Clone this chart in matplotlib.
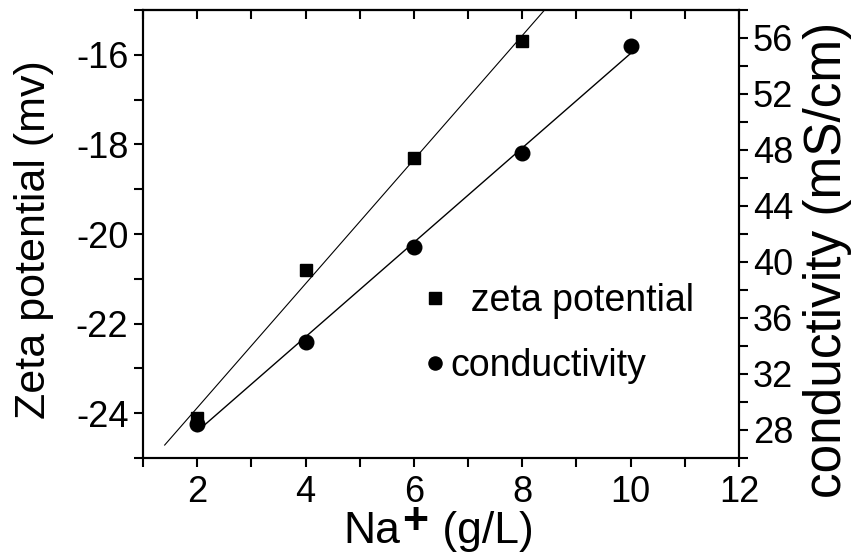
import numpy as np
import matplotlib
matplotlib.use("Agg")
import matplotlib.pyplot as plt
from matplotlib.ticker import MultipleLocator

plt.rcParams['font.family'] = ['Liberation Sans', 'DejaVu Sans']

# Na+ concentration (g/L)
na_zeta = [2, 4, 6, 8]
zeta_mv = [-24.1, -20.8, -18.3, -15.7]

na_cond = [2, 4, 6, 8, 10]
cond_mscm = [28.4, 34.3, 41.1, 47.8, 55.4]

x_ticks = [2, 4, 6, 8, 10, 12]
zeta_ticks = [-24, -22, -20, -18, -16]
cond_ticks = [28, 32, 36, 40, 44, 48, 52, 56]

TICK_FS = 26
XLABEL_FS = 32
ZLABEL_FS = 31
CLABEL_FS = 37
LEG_FS = 27

fig = plt.figure(figsize=(8.55, 5.56), dpi=100)
ax = fig.add_axes([143 / 855, 1 - 458 / 556, (739 - 143) / 855, (458 - 10) / 556])
ax2 = ax.twinx()

# linear fits
pz = np.polyfit(na_zeta, zeta_mv, 1)
pc = np.polyfit(na_cond, cond_mscm, 1)
xz = np.array([1.4, 8.8])
xc = np.array([min(na_cond), max(na_cond)])

ax.plot(xz, np.polyval(pz, xz), color='black', lw=0.8)
ax.plot(na_zeta, zeta_mv, 's', color='black', ms=9.3, label='  zeta potential')
ax2.plot(xc, np.polyval(pc, xc), color='black', lw=1.0)
ax2.plot(na_cond, cond_mscm, 'o', color='black', ms=10.5, label='conductivity')

ax.set_xlim(1, 12)
ax.set_ylim(-25, -15)
ax2.set_ylim(26, 58)

ax.set_xticks(x_ticks)
ax.xaxis.set_minor_locator(MultipleLocator(1))
ax.set_yticks(zeta_ticks)
ax.yaxis.set_minor_locator(MultipleLocator(1))
ax2.set_yticks(cond_ticks)
ax2.yaxis.set_minor_locator(MultipleLocator(2))

for a in (ax, ax2):
    for s in a.spines.values():
        s.set_linewidth(1.5)

tick_kw = dict(which='both', length=6.5, width=1.5, labelsize=TICK_FS)
ax.tick_params(axis='x', direction='out', top=False, pad=6, **tick_kw)
ax.tick_params(axis='y', direction='out', right=False, pad=4, **tick_kw)
ax2.tick_params(axis='y', direction='out', pad=3.5, **tick_kw)

# inward ticks along the top edge, no labels
top = ax.secondary_xaxis('top')
top.set_xticks(x_ticks)
top.xaxis.set_minor_locator(MultipleLocator(1))
top.tick_params(axis='x', which='both', direction='in', length=6.5, width=1.5,
                labeltop=False)
top.spines['top'].set_linewidth(1.5)

ax.set_yticklabels([f"{v:d}" for v in zeta_ticks])

# x-axis title: "Na" with a full-size raised "+"
t_na = ax.text(0.336, -0.189, 'Na', transform=ax.transAxes, fontsize=XLABEL_FS,
               ha='left', va='baseline')
t_plus = ax.annotate('+', xy=(1, 0), xycoords=t_na, xytext=(1.5, 6),
                     textcoords='offset points', fontsize=XLABEL_FS,
                     fontweight='bold', ha='left', va='bottom')
ax.annotate(' (g/L)', xy=(1, 0), xycoords=(t_plus, t_na), xytext=(1, 0),
            textcoords='offset points', fontsize=XLABEL_FS, ha='left', va='bottom')

ax.set_ylabel('Zeta potential (mv)', fontsize=ZLABEL_FS)
ax2.set_ylabel('conductivity (mS/cm)', fontsize=CLABEL_FS)
ax.yaxis.set_label_coords(-0.150, 0.487)
ax2.yaxis.set_label_coords(1.107, 0.442)

h1, l1 = ax.get_legend_handles_labels()
h2, l2 = ax2.get_legend_handles_labels()
ax2.legend(h1[:1] + h2[:1], l1[:1] + l2[:1], frameon=False, fontsize=LEG_FS,
           loc='upper left', bbox_to_anchor=(0.478, 0.39), handlelength=0.4,
           handletextpad=0.2, labelspacing=0.76, markerscale=0.9,
           borderaxespad=0, borderpad=0)

fig.savefig('out.png', dpi=100)
